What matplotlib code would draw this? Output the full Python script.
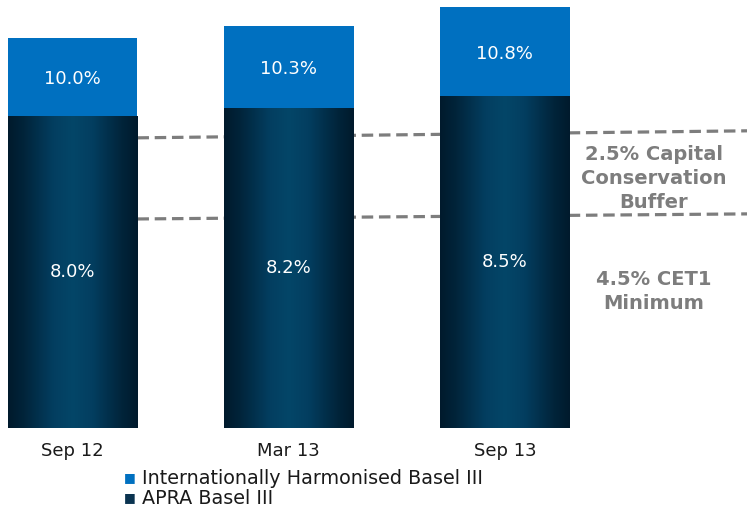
import numpy as np
import matplotlib
matplotlib.use("Agg")
import matplotlib.pyplot as plt
from matplotlib.colors import LinearSegmentedColormap

categories = ["Sep 12", "Mar 13", "Sep 13"]
apra_basel3 = [8.0, 8.2, 8.5]
intl_basel3 = [10.0, 10.3, 10.8]
series_names = ["Internationally Harmonised Basel III", "APRA Basel III"]
buffer_line = [(0.30, 5.36), (3.12, 5.49)]
cet1_line = [(0.30, 7.44), (3.12, 7.62)]
buffer_text = "2.5% Capital\nConservation\nBuffer"
cet1_text = "4.5% CET1\nMinimum"

FONT = ['DejaVu Sans']
plt.rcParams['font.family'] = FONT

fig = plt.figure(figsize=(7.47, 5.11), dpi=100)
ax = fig.add_axes([0, 83 / 511, 1, 428 / 511])
ax.axis('off')

x = np.arange(len(categories))
width = 0.6
blue = '#0070c0'
navy = '#022b45'
grey = '#7d7d7d'

for line in (buffer_line, cet1_line):
    xs = [p[0] for p in line]
    ys = [p[1] for p in line]
    ax.plot(xs, ys, color=grey, lw=2.3, ls=(0, (3.6, 1.8)), zorder=1)

top_bars = ax.bar(x, np.array(intl_basel3) - np.array(apra_basel3), width,
                  bottom=apra_basel3, color=blue, zorder=2, label=series_names[0])
bot_bars = ax.bar(x, apra_basel3, width, color=navy, zorder=2, label=series_names[1])

cmap = LinearSegmentedColormap.from_list(
    'g', [(0.0, '#001a2c'), (0.12, '#01243a'), (0.35, '#033e60'),
          (0.5, '#044668'), (0.65, '#033e60'), (0.88, '#01243a'), (1.0, '#001a2c')])
grad = np.linspace(0, 1, 256).reshape(1, -1)
for b in bot_bars:
    x0, y0 = b.get_x(), b.get_y()
    w, h = b.get_width(), b.get_height()
    im = ax.imshow(grad, cmap=cmap, aspect='auto', extent=[x0, x0 + w, y0, y0 + h],
                   zorder=3, interpolation='bilinear')
    im.set_clip_path(b)
ax.set_xlim(-0.336, 3.12)
ax.set_ylim(0, 428 / 39)

for i in range(len(categories)):
    ax.text(x[i], (apra_basel3[i] + intl_basel3[i]) / 2 - 0.05, f"{intl_basel3[i]:.1f}%",
            ha='center', va='center', color='white', fontsize=13, zorder=4)
    ax.text(x[i], apra_basel3[i] * 0.5, f"{apra_basel3[i]:.1f}%",
            ha='center', va='center', color='white', fontsize=13, zorder=4)
    ax.text(x[i], -0.6, categories[i], ha='center', va='center', color='#1a1a1a',
            fontsize=13)

ax.text(2.69, 6.4, buffer_text, ha='center', va='center', color=grey,
        fontsize=14, fontweight='bold', linespacing=1.32)
ax.text(2.69, 3.5, cet1_text, ha='center', va='center', color=grey,
        fontsize=14, fontweight='bold', linespacing=1.32)

fig.text(130 / 747, 1 - 478 / 511, '\u25a0', color=blue, fontsize=9, va='center', ha='center')
fig.text(142 / 747, 1 - 478 / 511, series_names[0], color='#1a1a1a', fontsize=13.8, va='center')
fig.text(130 / 747, 1 - 498 / 511, '\u25a0', color='#0a3350', fontsize=9, va='center', ha='center')
fig.text(142 / 747, 1 - 498 / 511, series_names[1], color='#1a1a1a', fontsize=13.8, va='center')

fig.savefig('out.png', dpi=100, facecolor='white')
